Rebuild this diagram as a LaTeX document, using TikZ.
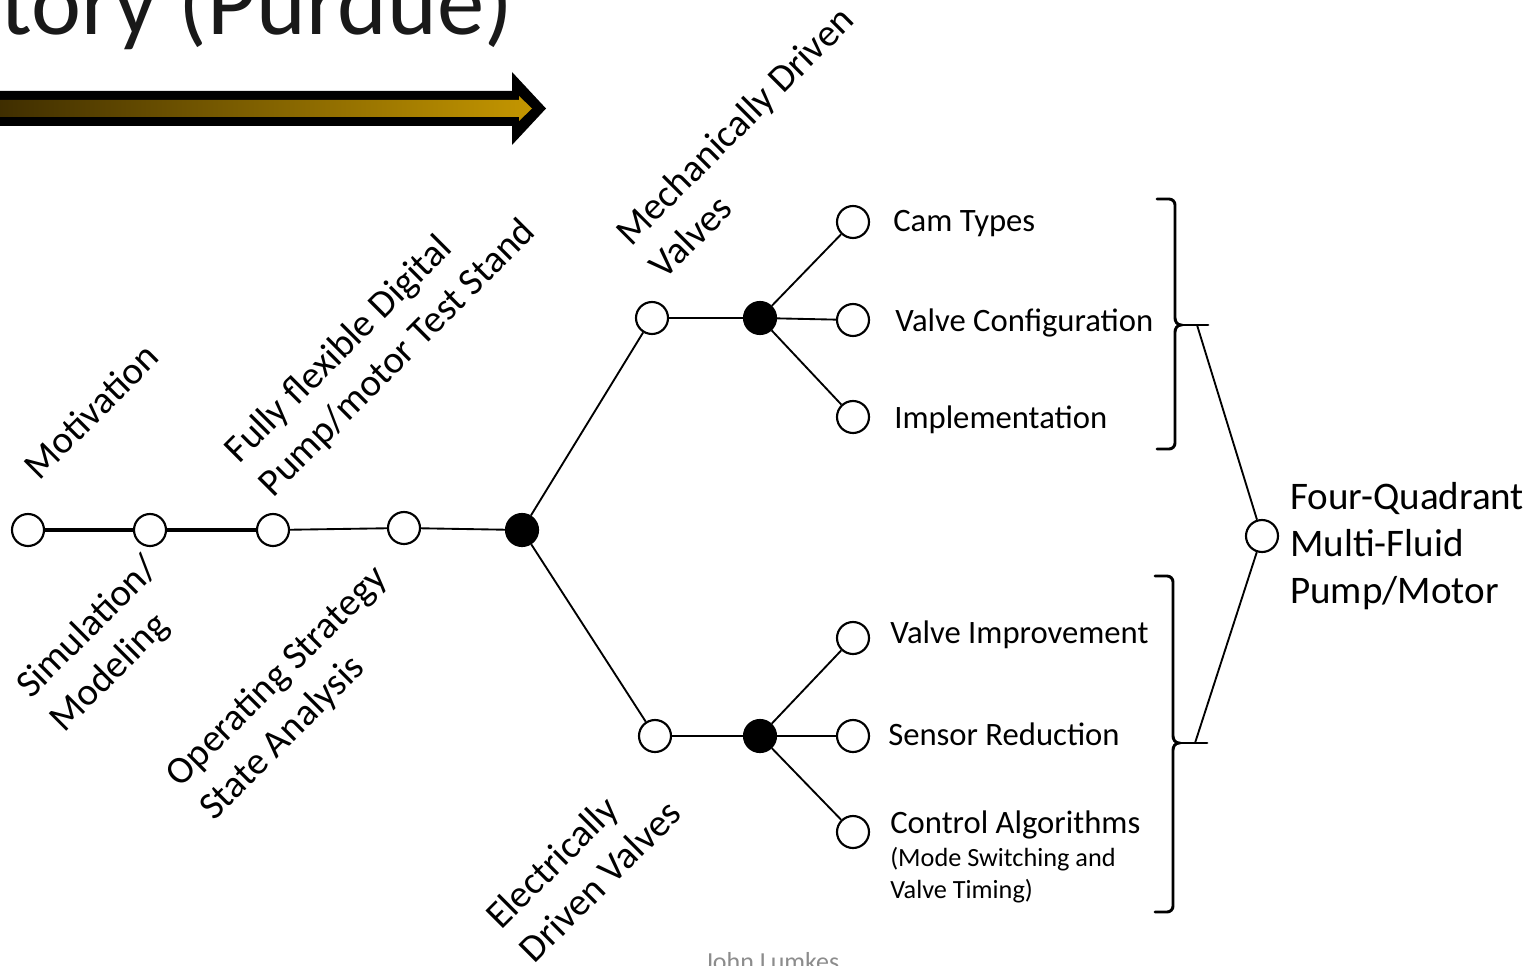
\documentclass[tikz,border=0pt]{standalone}
\usepackage{fontspec}
\setmainfont{Carlito}
\definecolor{arrowdark}{RGB}{62,45,0}
\definecolor{arrowgold}{RGB}{196,150,0}
\definecolor{footgray}{RGB}{140,140,140}
\begin{document}
\begin{tikzpicture}[x=0.75pt,y=-0.75pt,
  stage/.style={circle,draw,line width=1.6pt,fill=white,minimum size=24pt,inner sep=0pt},
  hubdot/.style={circle,draw,line width=1.6pt,fill=black,minimum size=24pt,inner sep=0pt},
  link/.style={line width=1.4pt},
  boldlink/.style={line width=2.4pt},
  bracket/.style={line width=2.2pt,line cap=round},
  tilted/.style={rotate=45,align=left,inner sep=0pt,font=\fontsize{29}{35.5}\selectfont},
  item/.style={anchor=base west,inner sep=0pt,font=\fontsize{24.5}{29.5}\selectfont},
  note/.style={anchor=base west,inner sep=0pt,align=left,font=\fontsize{19.7}{24}\selectfont}
]
\useasboundingbox (0,0) rectangle (1537,966);

% heading and progress arrow
\node[anchor=base west,inner sep=0pt,text=black!90,font=\fontsize{71}{85}\selectfont] (title) at (0,35) {tory (Purdue)};
\fill[black] (-5,91) -- (512,91) -- (512,72) -- (546,108.5) -- (512,145) -- (512,126) -- (-5,126) -- cycle;
\shade[left color=arrowdark,right color=arrowgold] (-5,100) -- (519,100) -- (519,96) -- (532,108.5) -- (519,121) -- (519,117) -- (-5,117) -- cycle;

% stages along the main line
\node[stage] (mot) at (28,530) {};
\node[stage] (sim) at (150,530) {};
\node[stage] (stand) at (273,530) {};
\node[stage] (ops) at (404,528) {};
\node[hubdot] (split) at (522,530) {};

% mechanical branch
\node[stage] (mech) at (652,318) {};
\node[hubdot] (mhub) at (760,318) {};
\node[stage] (cam) at (853,222) {};
\node[stage] (vconf) at (853,320) {};
\node[stage] (impl) at (853,417) {};

% electrical branch
\node[stage] (elec) at (655,736) {};
\node[hubdot] (ehub) at (760,736) {};
\node[stage] (vimp) at (853,638) {};
\node[stage] (sens) at (853,736) {};
\node[stage] (ctrl) at (853,832) {};

% goal
\node[stage] (goal) at (1262,536) {};

% connectors
\draw[boldlink] (mot) -- (sim);
\draw[boldlink] (sim) -- (stand);
\draw[link] (stand) -- (ops);
\draw[link] (ops) -- (split);
\draw[link] (split) -- (mech);
\draw[link] (split) -- (elec);
\draw[link,line width=1.8pt] (mech) -- (mhub);
\draw[link] (mhub) -- (cam);
\draw[link] (mhub) -- (vconf);
\draw[link] (mhub) -- (impl);
\draw[boldlink,line width=2pt] (elec) -- (ehub);
\draw[link] (ehub) -- (vimp);
\draw[link] (ehub) -- (sens);
\draw[link] (ehub) -- (ctrl);

% brackets grouping the topics
\draw[bracket] (1157,199) -- (1169,199) to[out=0,in=90] (1175,205) -- (1175,318)
  to[out=-90,in=180] (1181,325) to[out=180,in=90] (1175,332) -- (1175,443)
  to[out=-90,in=0] (1169,449) -- (1157,449);
\draw[bracket] (1181,325) -- (1208,325);
\coordinate (utab) at (1197,325);
\draw[bracket] (1155,576) -- (1167,576) to[out=0,in=90] (1173,582) -- (1173,736)
  to[out=-90,in=180] (1179,743) to[out=180,in=90] (1173,750) -- (1173,906)
  to[out=-90,in=0] (1167,912) -- (1155,912);
\draw[bracket] (1179,743) -- (1207,743);
\coordinate (ltab) at (1195,743);
\draw[link] (goal) -- (utab);
\draw[link] (goal) -- (ltab);

% tilted stage labels
\node[tilted] (lmot) at (91,411) {Motivation};
\node[tilted] (lstand) at (381,342) {Fully flexible Digital\\Pump/motor Test Stand};
\node[tilted] (lsim) at (105,645) {Simulation/\\Modeling};
\node[tilted] (lops) at (294,694) {Operating Strategy\\State Analysis};
\node[tilted] (lmech) at (751,142) {Mechanically Driven\\Valves};
\node[tilted] (lelec) at (583,864) {Electrically\\Driven Valves};

% topic labels
\node[item] (tcam) at (893,232) {Cam Types};
\node[item] (tvconf) at (895,331) {Valve Configuration};
\node[item] (timpl) at (894,428) {Implementation};
\node[item] (tvimp) at (890,643) {Valve Improvement};
\node[item] (tsens) at (888,745) {Sensor Reduction};
\node[item] (tctrl) at (890,833) {Control Algorithms};
\node[note] (tctrlnote) at (890,898) {(Mode Switching and\\Valve Timing)};

\node[anchor=west,inner sep=0pt,align=left,font=\fontsize{29.3}{35.3}\selectfont] (tgoal) at (1290,546) {Four-Quadrant\\Multi-Fluid\\Pump/Motor};

% footer
\node[anchor=base,inner sep=0pt,text=footgray,font=\fontsize{19.5}{24}\selectfont] (foot) at (772,970) {John Lumkes};
\end{tikzpicture}
\end{document}
